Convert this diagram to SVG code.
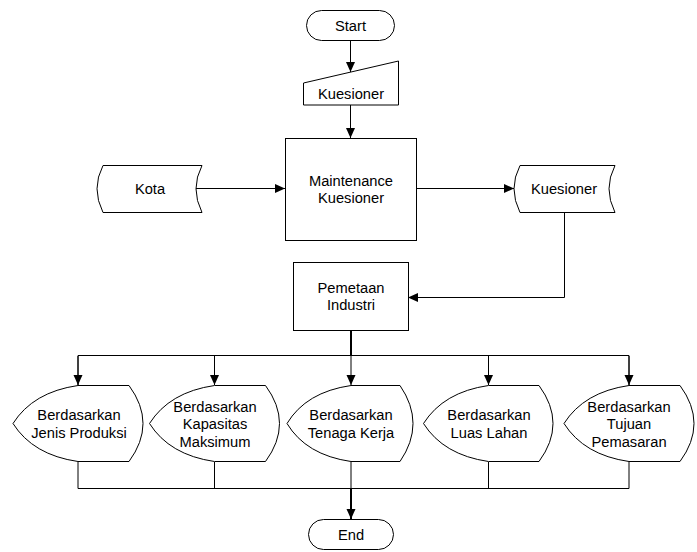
<svg xmlns="http://www.w3.org/2000/svg" width="697" height="552" viewBox="0 0 697 552">
<style>
.s{fill:#fff;stroke:#000;stroke-width:1}
.t{font-family:"Liberation Sans",Arial,sans-serif;font-size:14.7px;fill:#000;text-anchor:middle}
.c{fill:none;stroke:#000;stroke-width:1}
.k{fill:none;stroke:#000;stroke-width:2}
</style>
<defs>
<marker id="a" markerWidth="10" markerHeight="10" refX="10" refY="5" orient="auto" markerUnits="userSpaceOnUse">
<path d="M0,0.5 L10,5 L0,9.5 Z" fill="#000"/>
</marker>
</defs>
<rect width="697" height="552" fill="#fff"/>
<g id="connectors">
<path class="c" d="M350.5,41 V72" marker-end="url(#a)"/>
<path class="c" d="M350.5,105 V138" marker-end="url(#a)"/>
<path class="c" d="M196,188.5 H285" marker-end="url(#a)"/>
<path class="c" d="M416,188.5 H514" marker-end="url(#a)"/>
<path class="c" d="M564.5,212 V297.5 H408" marker-end="url(#a)"/>
<path class="k" d="M351,330 V355.5"/>
<path class="c" d="M78,385 V355.5 H629 V385"/>
<path class="c" d="M214.5,355.5 V385" marker-end="url(#a)"/>
<path class="c" d="M351,355.5 V385" marker-end="url(#a)"/>
<path class="c" d="M488.5,355.5 V385" marker-end="url(#a)"/>
<path class="c" d="M78,356 V385" marker-end="url(#a)"/>
<path class="c" d="M629,356 V385" marker-end="url(#a)"/>
<path class="c" d="M78,462 V488.5 H629 V462"/>
<path class="c" d="M214.5,462 V488.5"/>
<path class="c" d="M351,462 V488.5"/>
<path class="c" d="M488.5,462 V488.5"/>
<path class="k" d="M351,488 V519" marker-end="url(#a)"/>
</g>
<g id="start">
<rect class="s" x="306.5" y="10.5" width="88" height="30" rx="15"/>
<text class="t" x="350.5" y="31">Start</text>
</g>
<g id="input-kuesioner">
<path class="s" d="M303.5,83 L398.5,61 V105 H303.5 Z"/>
<text class="t" x="351" y="99">Kuesioner</text>
</g>
<g id="maintenance">
<rect class="s" x="285.5" y="138.5" width="131" height="102"/>
<text class="t" x="351" y="185.5">Maintenance</text>
<text class="t" x="351" y="203">Kuesioner</text>
</g>
<g id="kota">
<path class="s" d="M103,165.5 H202 Q190,188.5 202,212.5 H103 Q91,188.5 103,165.5 Z"/>
<text class="t" x="150" y="194">Kota</text>
</g>
<g id="store-kuesioner">
<path class="s" d="M520,165.5 H615 Q603,188.5 615,212.5 H520 Q508,188.5 520,165.5 Z"/>
<text class="t" x="564" y="194">Kuesioner</text>
</g>
<g id="pemetaan">
<rect class="s" x="293.5" y="262.5" width="115" height="68"/>
<text class="t" x="351" y="292.5">Pemetaan</text>
<text class="t" x="351" y="310">Industri</text>
</g>
<g id="jenis-produksi">
<path class="s" d="M78,385.5 H129 Q157,423.5 129,461.5 H78 Q33,455 13,423.5 Q33,392 78,385.5 Z"/>
<text class="t" x="79" y="420">Berdasarkan</text>
<text class="t" x="79" y="438">Jenis Produksi</text>
</g>
<g id="kapasitas">
<path class="s" d="M214.5,385.5 H265.5 Q293.5,423.5 265.5,461.5 H214.5 Q169.5,455 149.5,423.5 Q169.5,392 214.5,385.5 Z"/>
<text class="t" x="215" y="411.5">Berdasarkan</text>
<text class="t" x="215" y="429">Kapasitas</text>
<text class="t" x="215" y="446.5">Maksimum</text>
</g>
<g id="tenaga-kerja">
<path class="s" d="M351,385.5 H400 Q426,423.5 400,461.5 H351 Q306,455 287,423.5 Q306,392 351,385.5 Z"/>
<text class="t" x="351" y="420">Berdasarkan</text>
<text class="t" x="351" y="438">Tenaga Kerja</text>
</g>
<g id="luas-lahan">
<path class="s" d="M488.5,385.5 H539 Q567,423.5 539,461.5 H488.5 Q443.5,455 423.5,423.5 Q443.5,392 488.5,385.5 Z"/>
<text class="t" x="489" y="420">Berdasarkan</text>
<text class="t" x="489" y="438">Luas Lahan</text>
</g>
<g id="tujuan-pemasaran">
<path class="s" d="M629,385.5 H680 Q708,423.5 680,461.5 H629 Q584,455 564,423.5 Q584,392 629,385.5 Z"/>
<text class="t" x="629" y="411.5">Berdasarkan</text>
<text class="t" x="629" y="429">Tujuan</text>
<text class="t" x="629" y="446.5">Pemasaran</text>
</g>
<g id="end">
<rect class="s" x="308.5" y="519.5" width="85" height="30" rx="15"/>
<text class="t" x="351" y="540">End</text>
</g>
</svg>
